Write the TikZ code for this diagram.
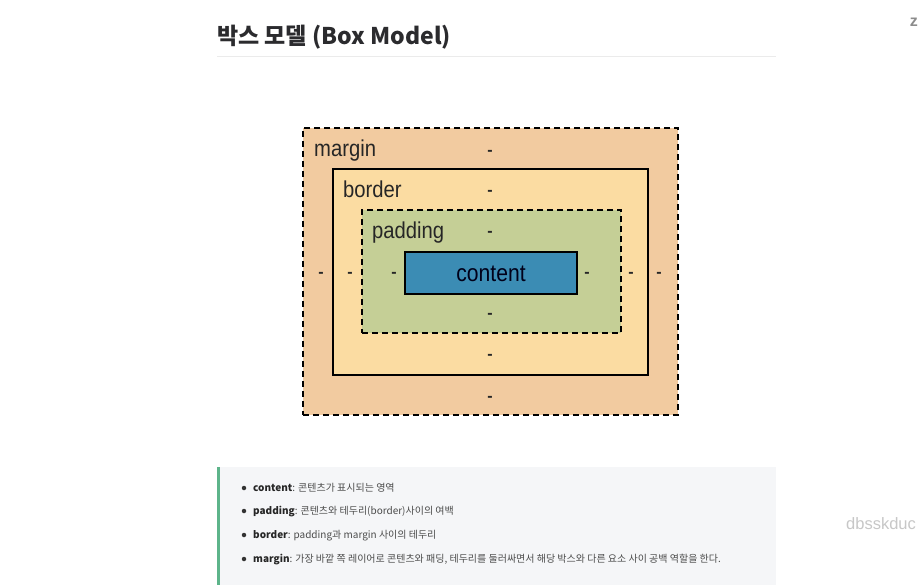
\documentclass[tikz,border=0pt]{standalone}
\usepackage{fontspec}
\setmainfont{Liberation Sans}
\newfontfamily\kr{Noto Sans CJK KR}
\newfontfamily\boxfont[FakeStretch=0.88]{Liberation Sans}
\usetikzlibrary{positioning}
\definecolor{MarginFill}{HTML}{F2CBA0}
\definecolor{BorderFill}{HTML}{FBDCA2}
\definecolor{PaddingFill}{HTML}{C5CF96}
\definecolor{ContentFill}{HTML}{3B8CB4}
\definecolor{NoteFill}{HTML}{F5F6F8}
\definecolor{NoteBar}{HTML}{5DB48A}
\definecolor{TitleInk}{HTML}{2B2B2E}

\begin{document}
\begin{tikzpicture}[x=1pt,y=-1pt,
    layer/.style={draw=black, line width=2pt, inner sep=0pt},
    dashlayer/.style={layer, dash pattern=on 6pt off 4pt},
    boxlabel/.style={font=\boxfont\fontsize{23}{23}\selectfont, text=black!85, anchor=base west, inner sep=0pt},
    gap/.style={font=\bfseries\fontsize{16}{16}\selectfont, text=black!85, anchor=mid, inner sep=0pt},
    item/.style={font=\kr\fontsize{10}{12}\selectfont, text=black!70, anchor=base west, inner sep=0pt},
    dot/.style={circle, fill=black!80, inner sep=0pt, minimum size=4.5pt}]
  \fill[white] (0,0) rectangle (919,587);
  \useasboundingbox (0,0) rectangle (919,587);
  \node[font=\kr\bfseries\fontsize{23}{23}\selectfont, text=TitleInk, anchor=base west, inner sep=0pt]
    (title) at (217,44) {박스 모델 (Box Model)};
  \coordinate (ruleL) at (217,56.5);
  \coordinate (ruleR) at (776,56.5);
  \draw[black!8, line width=0.8pt] (ruleL) -- (ruleR);

  \node[dashlayer, fill=MarginFill, minimum width=375pt, minimum height=287pt] (margin) at (490.5,271.5) {};
  \node[layer, fill=BorderFill, minimum width=315pt, minimum height=206pt] (border) at (490.5,272) {};
  \node[dashlayer, fill=PaddingFill, minimum width=259pt, minimum height=123pt] (padding) at (491.5,271.5) {};
  \node[layer, fill=ContentFill, minimum width=172pt, minimum height=42pt] (content) at (491,273) {};
  \node[font=\boxfont\fontsize{24}{24}\selectfont, text=black!90!blue, anchor=base, inner sep=0pt] (contentlabel) at (491,281.5) {content};

  \node[boxlabel] (marginlabel) at (314,156) {margin};
  \node[boxlabel] (borderlabel) at (343,197) {border};
  \node[boxlabel] (paddinglabel) at (372,238) {padding};

  \foreach \y [count=\i] in {153,193,234,316,357,399}
    \node[gap] (vgap\i) at (490,\y) {-};
  \foreach \x [count=\i] in {321,350,394,587,631,659}
    \node[gap] (hgap\i) at (\x,275) {-};

  \fill[NoteFill] (217,467) rectangle (776,585);
  \coordinate (barT) at (218.5,467);
  \coordinate (barB) at (218.5,585);
  \draw[NoteBar, line width=3pt] (barT) -- (barB);
  \foreach \y/\key/\txt [count=\i] in {
      488/content/콘텐츠가 표시되는 영역,
      511/padding/콘텐츠와 테두리(border)사이의 여백,
      535/border/padding과 margin 사이의 테두리,
      559/margin/가장 바깥 쪽 레이어로 콘텐츠와 패딩{,} 테두리를 둘러싸면서 해당 박스와 다른 요소 사이 공백 역할을 한다.}{
    \node[dot] (bullet\i) at (244,\y) {};
    \node[item] (item\i) at (253,\y+3.5) {{\bfseries\color{black!85}\key}: \txt};
  }

  \node[font=\fontsize{16.5}{16.5}\selectfont, text=black!22, anchor=base west, inner sep=0pt] (mark) at (846,529) {dbsskduc};
  \node[font=\bfseries\fontsize{16}{16}\selectfont, text=black!45, anchor=base east, inner sep=0pt] (corner) at (918,26) {z};
\end{tikzpicture}
\end{document}
